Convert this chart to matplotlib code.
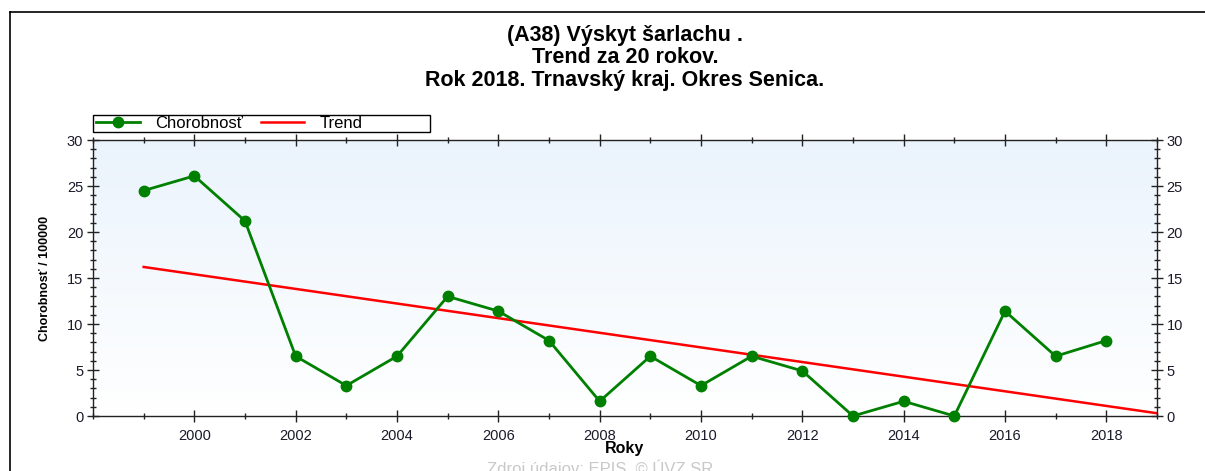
"""Výskyt šarlachu, okres Senica - chorobnosť a trend za 20 rokov."""

import numpy as np
import matplotlib.pyplot as plt
from matplotlib.lines import Line2D
from matplotlib.patches import Rectangle
from matplotlib.ticker import MultipleLocator, FixedLocator

plt.rcParams['font.family'] = ['Liberation Sans', 'DejaVu Sans']

years = [1999, 2000, 2001, 2002, 2003, 2004, 2005, 2006, 2007, 2008,
         2009, 2010, 2011, 2012, 2013, 2014, 2015, 2016, 2017, 2018]
incidence = [24.5, 26.1, 21.2, 6.5, 3.3, 6.5, 13.0, 11.4, 8.2, 1.6,
             6.5, 3.3, 6.5, 4.9, 0.0, 1.6, 0.0, 11.4, 6.5, 8.2]
trend_years = [1999, 2019]
trend_values = [16.2, 0.3]
year_ticks = [2000, 2002, 2004, 2006, 2008, 2010, 2012, 2014, 2016, 2018]

title = "(A38) Výskyt šarlachu .\nTrend za 20 rokov.\nRok 2018. Trnavský kraj. Okres Senica."
source = "Zdroj údajov: EPIS, © ÚVZ SR"

W, H = 1205, 471
fig = plt.figure(figsize=(W / 100, H / 100), dpi=100)
ax = fig.add_axes([93 / W, 1 - 416 / H, (1157 - 93) / W, (416 - 140) / H])

# outer frame (top and left edges visible, the rest is cut off)
fig.add_artist(Line2D([10 / W, 1.0], [1 - 12 / H, 1 - 12 / H], color='black', lw=1.2))
fig.add_artist(Line2D([10 / W, 10 / W], [0.0, 1 - 12 / H], color='black', lw=1.2))

# light blue -> white gradient in the plot area
grad = np.linspace(1, 0, 256).reshape(-1, 1)
top_col = np.array([0.92, 0.955, 0.99])
img = np.ones((256, 1, 3)) * (1 - grad[..., None]) + top_col * grad[..., None]
ax.imshow(img, extent=[1998, 2019, 0, 30], aspect='auto', zorder=0, origin='upper')

ax.plot(years, incidence, color='#008000', lw=2, marker='o', ms=7.5,
        label='Chorobnosť', zorder=3, clip_on=False)
ax.plot(trend_years, trend_values, color='#ff0000', lw=1.8, label='Trend', zorder=2)

ax.set_xlim(1998, 2019)
ax.set_ylim(0, 30)
ax.xaxis.set_major_locator(FixedLocator(year_ticks))
ax.xaxis.set_minor_locator(MultipleLocator(1))
ax.yaxis.set_major_locator(MultipleLocator(5))
ax.yaxis.set_minor_locator(MultipleLocator(1))
ax.tick_params(which='both', direction='inout', top=True, right=True,
               labelright=True, color='#222222', width=1)
ax.tick_params(which='major', length=8, labelsize=10.5, labelcolor='#1a1a2a', pad=3)
ax.tick_params(which='minor', length=5)
ax.tick_params(axis='x', which='major', pad=5)
for s in ax.spines.values():
    s.set_color('#222222')
    s.set_linewidth(1)

ax.set_xlabel('Roky', fontsize=11.5, fontweight='bold')
ax.xaxis.set_label_coords(0.5, -(449 - 416) / 276, transform=ax.transAxes)
ax.xaxis.label.set_va('center')
ax.set_ylabel('Chorobnosť / 100000', fontsize=9, fontweight='bold')
ax.yaxis.set_label_coords((45 - 93) / 1064, 0.5)
ax.yaxis.label.set_va('center')

fig.text(625 / W, 1 - 25 / H, title, ha='center', va='top', fontsize=15.5,
         fontweight='bold', linespacing=1.08)

# legend: box drawn separately so it keeps the reference width
ax.add_patch(Rectangle((0, 1 + 8 / 276), 337 / 1064, 17 / 276, transform=ax.transAxes,
                       facecolor='white', edgecolor='black', lw=1, clip_on=False, zorder=4))
leg = ax.legend(loc='center left', bbox_to_anchor=(0.0, 1 + 16.5 / 276),
                ncol=2, frameon=False, fontsize=12, borderpad=0,
                handlelength=2.6, handletextpad=0.9, borderaxespad=0.2,
                columnspacing=1.1)
leg.set_zorder(5)

fig.text(600 / W, -6 / H, source, ha='center', va='bottom', fontsize=12,
         color='#c8c8c8')

fig.savefig('out.png', dpi=100)
